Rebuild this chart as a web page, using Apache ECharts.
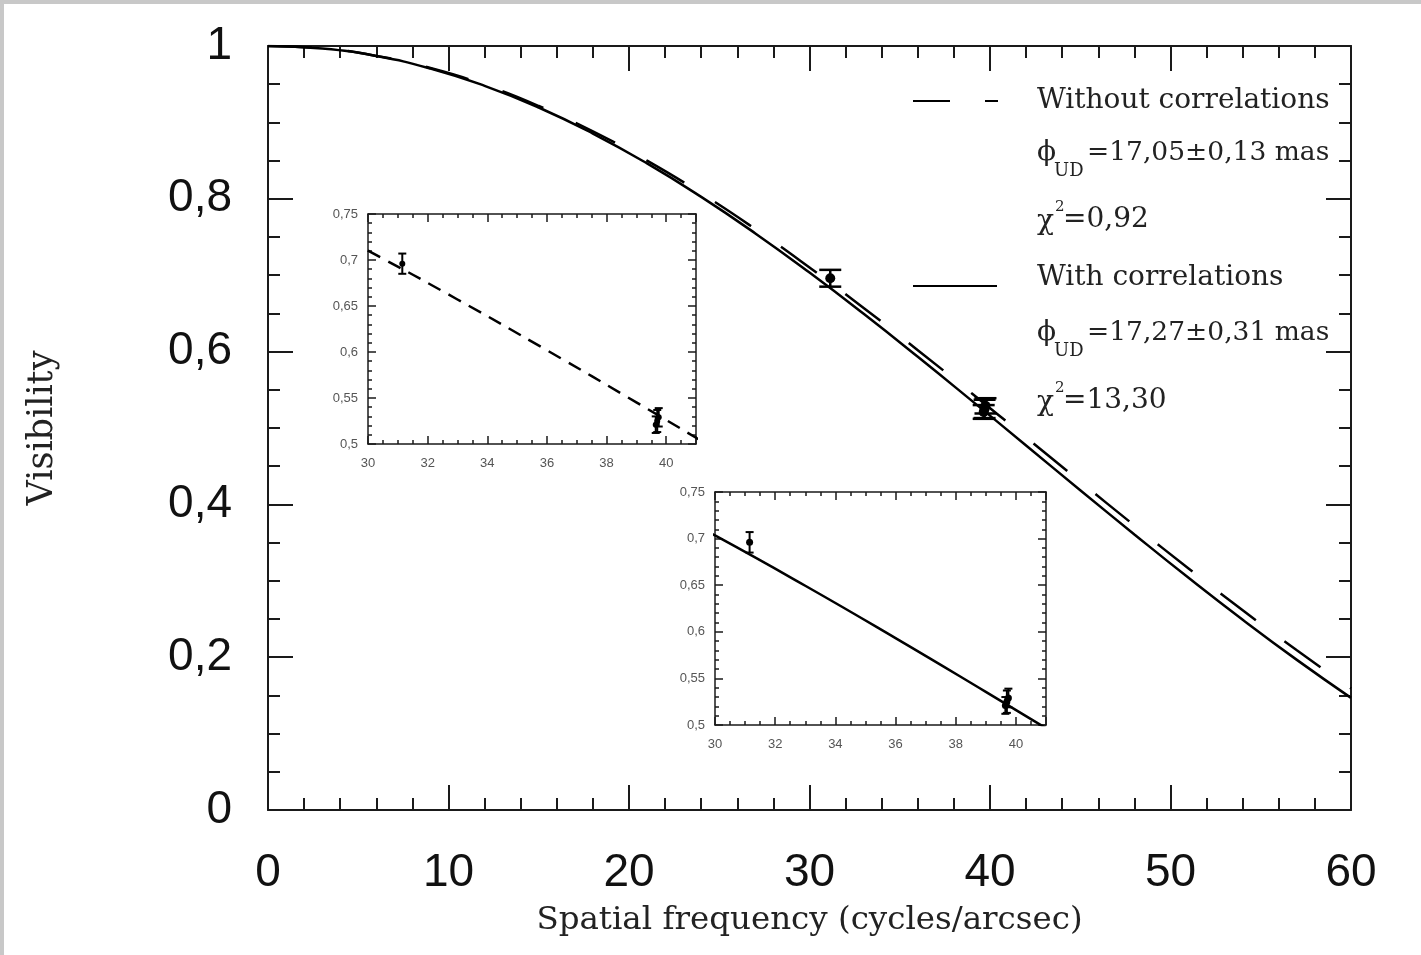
<!DOCTYPE html>
<html>
<head>
<meta charset="utf-8">
<style>
  html, body { margin: 0; padding: 0; background: #fff; }
  #chart { width: 1421px; height: 955px; }
</style>
<script src="https://cdn.jsdelivr.net/npm/echarts@6/dist/echarts.min.js"></script>
</head>
<body>
<div id="chart"></div>
<script>
// visibility curves (uniform disk fits)
var freq = [0, 3, 6, 9, 12, 15, 18, 21, 24, 27, 30, 33, 36, 39, 42, 45, 48, 51, 54, 57, 60];
var visNoCorr = [1, 0.9968, 0.9871, 0.9712, 0.9492, 0.9215, 0.8882, 0.8500, 0.8072, 0.7604, 0.7101,
                 0.6571, 0.6019, 0.5452, 0.4876, 0.4298, 0.3724, 0.3161, 0.2614, 0.2090, 0.1592];
var visCorr = [1, 0.9967, 0.9868, 0.9705, 0.9479, 0.9195, 0.8854, 0.8463, 0.8025, 0.7547, 0.7034,
               0.6494, 0.5932, 0.5355, 0.4771, 0.4186, 0.3607, 0.3039, 0.2490, 0.1965, 0.1468];

// measured points with error bars
var obsFreq = [31.15, 39.65, 39.7, 39.75];
var obsVis = [0.696, 0.521, 0.525, 0.529];
var obsErr = [0.011, 0.009, 0.012, 0.010];

var mainXTicks = { min: 0, max: 60, interval: 10 };
var mainYTicks = { min: 0, max: 1, interval: 0.2 };
var insetXTicks = { min: 30, max: 41, interval: 2 };
var insetYTicks = { min: 0.5, max: 0.75, interval: 0.05 };

var chart = echarts.init(document.getElementById('chart'));

function commaFmt(v) {
    return String(+v.toFixed(2)).replace('.', ',');
}

function pairs(xs, ys) {
    return xs.map(function (x, i) { return [x, ys[i]]; });
}

function axis(gridIndex, position, ticks, o) {
    return {
        type: 'value',
        gridIndex: gridIndex,
        position: position,
        min: ticks.min,
        max: ticks.max,
        interval: ticks.interval,
        splitLine: { show: false },
        axisLine: { show: true, onZero: false, lineStyle: { color: '#1a1a1a', width: o.lineW } },
        axisTick: { show: true, inside: true, length: o.major, lineStyle: { color: '#1a1a1a', width: o.lineW } },
        minorTick: { show: true, splitNumber: o.split, length: o.minor, lineStyle: { color: '#1a1a1a', width: o.lineW } },
        axisLabel: o.label ? {
            show: true,
            margin: o.margin,
            fontFamily: 'Liberation Sans',
            fontSize: o.font,
            color: o.color,
            showMaxLabel: o.showMax !== false,
            formatter: commaFmt
        } : { show: false }
    };
}

function errorBars(capHalf, radius, lw) {
    return function (params, api) {
        var x = api.value(0), y = api.value(1), e = api.value(2);
        var c = api.coord([x, y]);
        var lo = api.coord([x, y - e]);
        var hi = api.coord([x, y + e]);
        var st = { stroke: '#000', lineWidth: lw };
        return {
            type: 'group',
            children: [
                { type: 'line', shape: { x1: lo[0], y1: lo[1], x2: hi[0], y2: hi[1] }, style: st },
                { type: 'line', shape: { x1: lo[0] - capHalf, y1: lo[1], x2: lo[0] + capHalf, y2: lo[1] }, style: st },
                { type: 'line', shape: { x1: hi[0] - capHalf, y1: hi[1], x2: hi[0] + capHalf, y2: hi[1] }, style: st },
                { type: 'circle', shape: { cx: c[0], cy: c[1], r: radius }, style: { fill: '#000' } }
            ]
        };
    };
}

var mainX = { lineW: 2, major: 25, minor: 12, split: 5, font: 46, margin: 40, color: '#111' };
var mainY = { lineW: 2, major: 25, minor: 12, split: 4, font: 46, margin: 36, color: '#111' };
var insX = { lineW: 1.5, major: 8, minor: 4, split: 4, font: 13, margin: 13, color: '#555', showMax: false };
var insY = { lineW: 1.5, major: 8, minor: 4, split: 5, font: 13, margin: 10, color: '#555' };
function noLabel(o) { return Object.assign({}, o, { label: false }); }
function withLabel(o) { return Object.assign({}, o, { label: true }); }

var xMain = axis(0, 'bottom', mainXTicks, withLabel(mainX));
xMain.name = 'Spatial frequency (cycles/arcsec)';
xMain.nameLocation = 'middle';
xMain.nameGap = 94;
xMain.nameTextStyle = { fontFamily: 'DejaVu Serif', fontSize: 32.5, color: '#222' };

var yMain = axis(0, 'left', mainYTicks, withLabel(mainY));
yMain.name = 'Visibility';
yMain.nameLocation = 'middle';
yMain.nameGap = 208;
yMain.nameTextStyle = { fontFamily: 'DejaVu Serif', fontSize: 35, color: '#222' };

var serif = 'DejaVu Serif';
function txt(x, y, s, size) {
    return {
        type: 'text', x: x, y: y, z: 10,
        style: { text: s, fontFamily: serif, fontSize: size || 28, fill: '#222', verticalAlign: 'middle', align: 'left' }
    };
}
function seg(x1, y1, x2, y2) {
    return { type: 'line', z: 10, shape: { x1: x1, y1: y1, x2: x2, y2: y2 }, style: { stroke: '#000', lineWidth: 2 } };
}

var option = {
    backgroundColor: '#fff',
    animation: false,
    grid: [
        { left: 268, top: 46, width: 1083, height: 764, outerBoundsMode: 'none' },
        { left: 368, top: 214, width: 328, height: 230, show: true, backgroundColor: '#fff', borderWidth: 0, outerBoundsMode: 'none' },
        { left: 715, top: 492, width: 331, height: 233, show: true, backgroundColor: '#fff', borderWidth: 0, outerBoundsMode: 'none' }
    ],
    xAxis: [
        xMain,
        axis(0, 'top', mainXTicks, noLabel(mainX)),
        axis(1, 'bottom', insetXTicks, withLabel(insX)),
        axis(1, 'top', insetXTicks, noLabel(insX)),
        axis(2, 'bottom', insetXTicks, withLabel(insX)),
        axis(2, 'top', insetXTicks, noLabel(insX))
    ],
    yAxis: [
        yMain,
        axis(0, 'right', mainYTicks, noLabel(mainY)),
        axis(1, 'left', insetYTicks, withLabel(insY)),
        axis(1, 'right', insetYTicks, noLabel(insY)),
        axis(2, 'left', insetYTicks, withLabel(insY)),
        axis(2, 'right', insetYTicks, noLabel(insY))
    ],
    series: [
        {
            name: 'Without correlations', type: 'line', xAxisIndex: 0, yAxisIndex: 0,
            data: pairs(freq, visNoCorr), smooth: true, showSymbol: false,
            lineStyle: { color: '#000', width: 2.5, type: [44, 36] }
        },
        {
            name: 'With correlations', type: 'line', xAxisIndex: 0, yAxisIndex: 0,
            data: pairs(freq, visCorr), smooth: true, showSymbol: false,
            lineStyle: { color: '#000', width: 2.5 }
        },
        {
            type: 'custom', xAxisIndex: 0, yAxisIndex: 0,
            data: obsFreq.map(function (f, i) { return [f, obsVis[i], obsErr[i]]; }),
            renderItem: errorBars(11, 5, 2.5)
        },
        {
            type: 'line', xAxisIndex: 2, yAxisIndex: 2,
            data: pairs(freq, visNoCorr), smooth: true, showSymbol: false,
            lineStyle: { color: '#000', width: 2.5, type: [14, 9] }
        },
        {
            type: 'custom', xAxisIndex: 2, yAxisIndex: 2,
            data: obsFreq.map(function (f, i) { return [f, obsVis[i], obsErr[i]]; }),
            renderItem: errorBars(4, 3, 2)
        },
        {
            type: 'line', xAxisIndex: 4, yAxisIndex: 4,
            data: pairs(freq, visCorr), smooth: true, showSymbol: false,
            lineStyle: { color: '#000', width: 2.5 }
        },
        {
            type: 'custom', xAxisIndex: 4, yAxisIndex: 4,
            data: obsFreq.map(function (f, i) { return [f, obsVis[i], obsErr[i]]; }),
            renderItem: errorBars(4, 3.5, 2)
        }
    ],
    graphic: [
        { type: 'rect', shape: { x: 0, y: 0, width: 1421, height: 4 }, style: { fill: '#c8c8c8' } },
        { type: 'rect', shape: { x: 0, y: 0, width: 4, height: 955 }, style: { fill: '#c8c8c8' } },
        seg(913, 101, 950, 101),
        seg(985, 101, 998, 101),
        txt(1037, 101, 'Without correlations'),
        txt(1037, 153, 'ϕ'),
        txt(1054, 171, 'UD', 18),
        txt(1087, 153, '=17,05±0,13 mas', 26.5),
        txt(1037, 222, 'χ'),
        txt(1055, 207, '2', 15),
        txt(1063, 220, '=0,92'),
        seg(913, 286, 997, 286),
        txt(1037, 278, 'With correlations'),
        txt(1037, 333, 'ϕ'),
        txt(1054, 351, 'UD', 18),
        txt(1087, 333, '=17,27±0,31 mas', 26.5),
        txt(1037, 403, 'χ'),
        txt(1055, 388, '2', 15),
        txt(1063, 401, '=13,30')
    ]
};

chart.setOption(option);
</script>
</body>
</html>
